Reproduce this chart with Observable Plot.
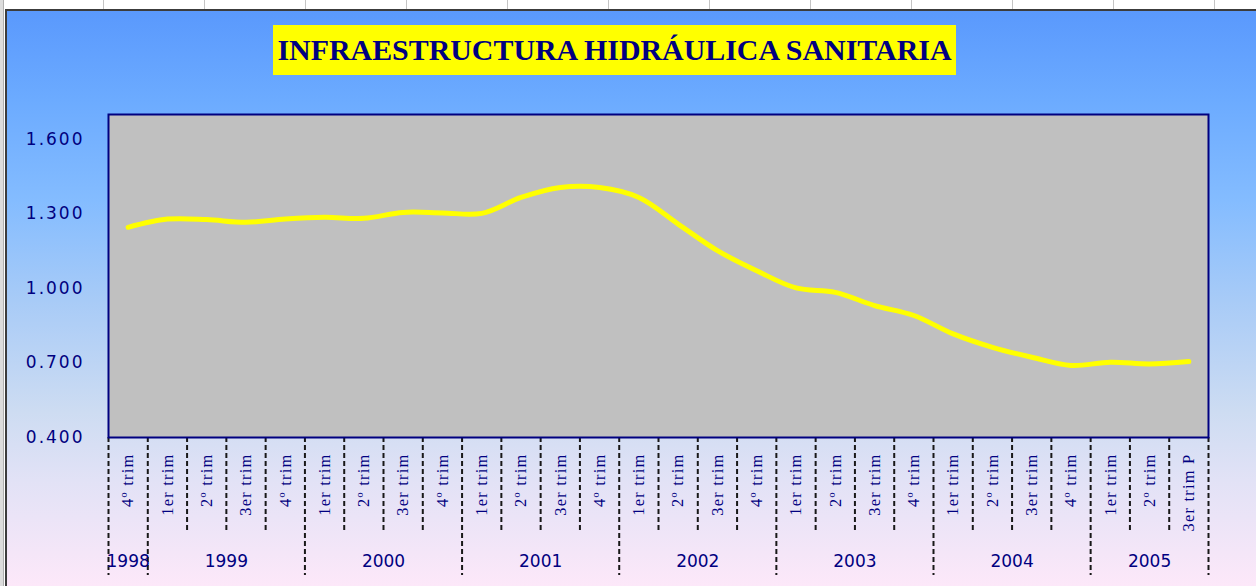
<!DOCTYPE html>
<html>
<head>
<meta charset="utf-8">
<script src="https://cdn.jsdelivr.net/npm/d3@7"></script>
<script src="https://cdn.jsdelivr.net/npm/@observablehq/plot@0.6"></script>
<style>
  html, body { margin: 0; padding: 0; }
  body { width: 1256px; height: 586px; overflow: hidden; position: relative; background: #ffffff; }
  #sheetTop { position: absolute; left: 0; top: 0; width: 1256px; height: 9px;
    background-image: repeating-linear-gradient(90deg, #ffffff 0px, #ffffff 100px, #c4c4c4 100px, #c4c4c4 101px);
    background-position: 3px 0; }
  #sheetLeft { position: absolute; left: 0; top: 0; width: 3px; height: 586px; background: #dcdcdc; border-right: 1px solid #b0b0b0; }
  #chartBg { position: absolute; left: 5px; top: 9px; width: 1270px; height: 600px;
    border-left: 2px solid #3c3c3c; border-top: 2px solid #3c3c3c;
    background: linear-gradient(to bottom, #5a99fd 0px, #6cabff 90px, #84bcff 190px, #a8cbf7 290px, #cddcf2 400px, #e2e2f6 470px, #fde8f9 577px); }
  #title { position: absolute; left: 273px; top: 25px; width: 683px; height: 50px; background: #ffff00;
    display: flex; align-items: center; justify-content: center; overflow: hidden; }
  #title span { font-family: "Liberation Serif", "Times New Roman", serif; font-weight: bold; font-size: 29.5px;
    color: #000080; white-space: nowrap; display: inline-block; transform-origin: center; }
  #plotHolder { position: absolute; left: 0; top: 90px; }
</style>
</head>
<body>
<div id="sheetTop"></div>
<div id="sheetLeft"></div>
<div id="chartBg"></div>
<div id="title"><span id="titleText">INFRAESTRUCTURA HIDRÁULICA SANITARIA</span></div>
<div id="plotHolder"></div>
<script>
// ---- Data ----
const years = ["1998", "1999", "2000", "2001", "2002", "2003", "2004", "2005"];
const quartersPerYear = [1, 4, 4, 4, 4, 4, 4, 3];
const quarters = [
  "4º trim",
  "1er trim", "2º trim", "3er trim", "4º trim",
  "1er trim", "2º trim", "3er trim", "4º trim",
  "1er trim", "2º trim", "3er trim", "4º trim",
  "1er trim", "2º trim", "3er trim", "4º trim",
  "1er trim", "2º trim", "3er trim", "4º trim",
  "1er trim", "2º trim", "3er trim", "4º trim",
  "1er trim", "2º trim", "3er trim P"
];
const values = [
  1.246,
  1.279, 1.277, 1.266, 1.279,
  1.286, 1.282, 1.306, 1.304,
  1.302, 1.366, 1.406, 1.406,
  1.366, 1.259, 1.152, 1.071,
  1.002, 0.984, 0.931, 0.891,
  0.817, 0.763, 0.723, 0.690,
  0.703, 0.696, 0.706
];
const yTicks = [0.4, 0.7, 1.0, 1.3, 1.6];
const yDomain = [0.4, 1.7];

// ---- Derived tables ----
const data = values.map((v, i) => ({ i, v, q: quarters[i] }));
const yearStart = [];
let acc = 0;
quartersPerYear.forEach(c => { yearStart.push(acc); acc += c; });
const yearBounds = [...yearStart.map(s => s - 0.5), acc - 0.5];
const allBounds = d3.range(0, acc + 1).map(k => k - 0.5);
const quarterBounds = allBounds.filter(b => !yearBounds.includes(b));
const yearLabels = years.map((y, j) => ({ year: y, x: yearStart[j] + (quartersPerYear[j] - 1) / 2 }));

const fmt = d3.format(".3f");
const dashStyle = { stroke: "#181818", strokeWidth: 2, strokeDasharray: "5,3", fill: "none", label: null, tickFormat: () => "" };

const chart = Plot.plot({
  width: 1256,
  height: 496,
  marginTop: 24,
  marginBottom: 149,
  marginLeft: 108,
  marginRight: 48,
  x: { domain: [-0.5, acc - 0.5], label: null },
  y: { domain: yDomain, label: null },
  style: { background: "transparent", color: "#000080", fontFamily: "DejaVu Sans", fontSize: "17px", overflow: "visible" },
  marks: [
    Plot.frame({ fill: "#c0c0c0" }),
    Plot.axisY({ ticks: yTicks, tickSize: 0, tickPadding: 24, tickFormat: fmt, label: null, fill: "#000080" }),
    Plot.axisX({ ticks: quarterBounds, tickSize: 93, ...dashStyle }),
    Plot.axisX({ ticks: yearBounds, tickSize: 138, ...dashStyle }),
    Plot.text(data, { x: "i", text: "q", frameAnchor: "bottom", rotate: -90, textAnchor: "end", lineAnchor: "middle",
      dy: 16, fontFamily: "Liberation Serif", fontSize: 16.5, fill: "#000080" }),
    Plot.text(yearLabels, { x: "x", text: "year", frameAnchor: "bottom", dy: 124, lineAnchor: "middle",
      fontFamily: "DejaVu Sans", fontSize: 17, fill: "#000080" }),
    Plot.line(data, { x: "i", y: "v", curve: "catmull-rom", stroke: "#ffff00", strokeWidth: 5 }),
    Plot.frame({ stroke: "#000080", strokeWidth: 2 })
  ]
});
document.getElementById("plotHolder").appendChild(chart);

// letter spacing to mimic the wide bitmap fonts
const qSet = new Set(quarters);
const ySet = new Set(yTicks.map(fmt));
d3.select(chart).selectAll("text").each(function () {
  const t = this.textContent;
  if (qSet.has(t)) d3.select(this).attr("letter-spacing", "1.2");
  else if (ySet.has(t)) d3.select(this).attr("letter-spacing", "2");
});

// fit title width
const ts = document.getElementById("titleText");
const w = ts.getBoundingClientRect().width;
if (w > 0) ts.style.transform = `scaleX(${674 / w})`;
</script>
</body>
</html>
